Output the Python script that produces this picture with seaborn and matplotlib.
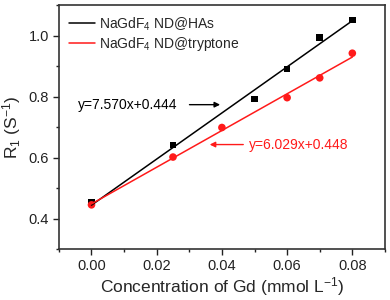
import numpy as np
import pandas as pd
import seaborn as sns
import matplotlib.pyplot as plt
from matplotlib.ticker import MultipleLocator

# R1 relaxivity vs Gd concentration
conc_has = [0.0, 0.025, 0.05, 0.06, 0.07, 0.08]
r1_has = [0.452, 0.641, 0.792, 0.891, 0.994, 1.052]
conc_tryp = [0.0, 0.025, 0.04, 0.06, 0.07, 0.08]
r1_tryp = [0.445, 0.602, 0.699, 0.797, 0.862, 0.943]
fit_has = (7.570, 0.444)
fit_tryp = (6.029, 0.448)
labels = ['NaGdF$_4$ ND@HAs', 'NaGdF$_4$ ND@tryptone']

sns.set_style('ticks')
plt.rcParams['font.family'] = ['Liberation Sans', 'DejaVu Sans']
plt.rcParams['mathtext.fontset'] = 'custom'
plt.rcParams['mathtext.rm'] = 'Liberation Sans'
plt.rcParams['mathtext.it'] = 'Liberation Sans'

df_has = pd.DataFrame({'x': conc_has, 'y': r1_has})
df_tryp = pd.DataFrame({'x': conc_tryp, 'y': r1_tryp})
df_has['fit'] = fit_has[0] * df_has['x'] + fit_has[1]
df_tryp['fit'] = fit_tryp[0] * df_tryp['x'] + fit_tryp[1]

fig = plt.figure(figsize=(3.9, 3.0), dpi=100)
ax = fig.add_axes([0.151, 0.17, 0.836, 0.812])

sns.lineplot(data=df_has, x='x', y='fit', color='black', lw=1.1, ax=ax, label=labels[0])
sns.lineplot(data=df_tryp, x='x', y='fit', color='#ff1a1a', lw=1.1, ax=ax, label=labels[1])
sns.scatterplot(data=df_has, x='x', y='y', marker='s', color='black', s=22, edgecolor='none', ax=ax)
sns.scatterplot(data=df_tryp, x='x', y='y', marker='o', color='#ff1a1a', s=30, edgecolor='none', ax=ax)

ax.set_xlim(-0.01, 0.09)
ax.set_ylim(0.3, 1.1)
ax.xaxis.set_major_locator(MultipleLocator(0.02))
ax.xaxis.set_minor_locator(MultipleLocator(0.01))
ax.yaxis.set_major_locator(MultipleLocator(0.2))
ax.yaxis.set_minor_locator(MultipleLocator(0.1))
ax.set_xticks([0.0, 0.02, 0.04, 0.06, 0.08])
ax.set_xticklabels(['0.00', '0.02', '0.04', '0.06', '0.08'])
ax.set_yticks([0.4, 0.6, 0.8, 1.0])
ax.set_yticklabels(['0.4', '0.6', '0.8', '1.0'])
ax.tick_params(which='major', length=4, width=1, labelsize=10.5, colors='#222222', pad=3)
ax.tick_params(which='minor', length=2.5, width=1, colors='#222222')
for sp in ax.spines.values():
    sp.set_visible(True)
    sp.set_color('#333333')
    sp.set_linewidth(1.2)

ax.set_xlabel('Concentration of Gd (mmol L$^{-1}$)', fontsize=12.5, labelpad=2)
ax.set_ylabel('R$_1$ (S$^{-1}$)', fontsize=12.5, labelpad=4)

leg = ax.legend(loc='upper left', frameon=False, fontsize=10, handlelength=1.9,
                handletextpad=0.3, borderaxespad=0.3, labelspacing=0.2)

ax.annotate('', xy=(0.0403, 0.774), xytext=(0.0292, 0.774),
            arrowprops=dict(arrowstyle='-|>', color='black', lw=1.0, mutation_scale=8))
ax.text(-0.0043, 0.772, 'y=7.570x+0.444', fontsize=10, color='black', va='center', ha='left')
ax.annotate('', xy=(0.0354, 0.643), xytext=(0.0474, 0.643),
            arrowprops=dict(arrowstyle='-|>', color='#ff1a1a', lw=1.0, mutation_scale=8))
ax.text(0.0483, 0.643, 'y=6.029x+0.448', fontsize=10, color='#ff1a1a', va='center', ha='left')

fig.savefig('out.png', dpi=100)
